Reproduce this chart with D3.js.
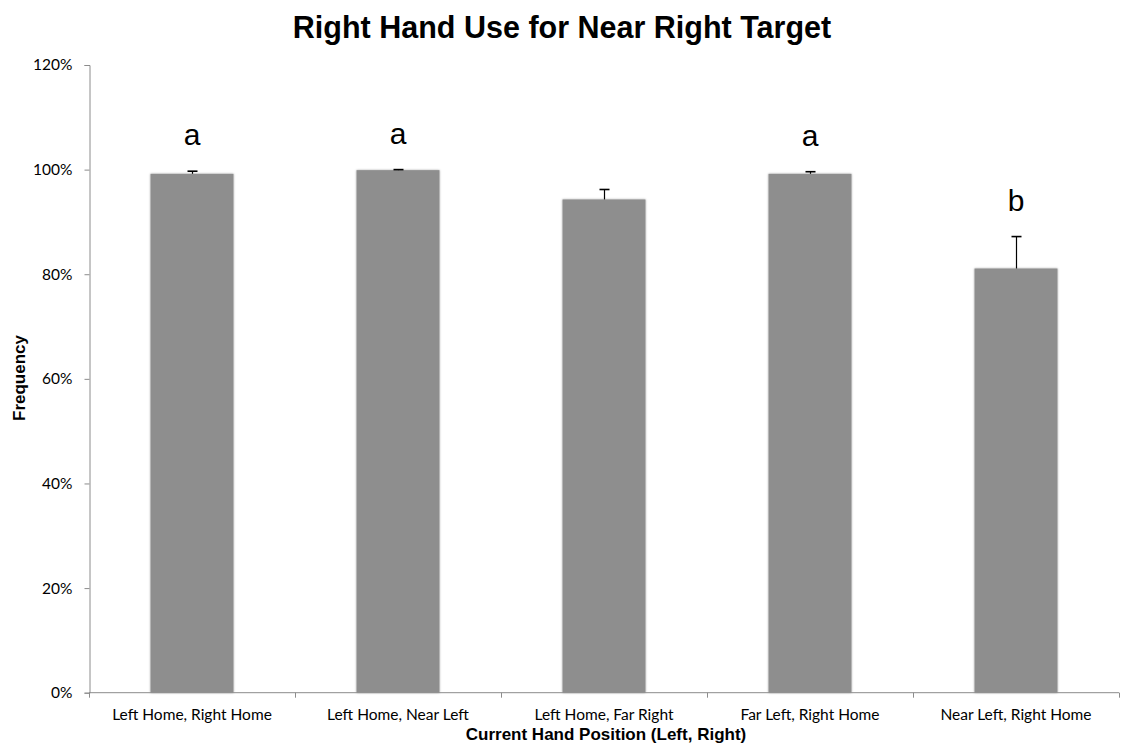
<!DOCTYPE html>
<html>
<head>
<meta charset="utf-8">
<script src="https://cdn.jsdelivr.net/npm/d3@7"></script>
<style>
  body { margin: 0; background: #fff; }
  svg { display: block; }
</style>
</head>
<body>
<svg id="chart" width="1123" height="753"></svg>
<script>
// Share of trials using the right hand, per current hand position
const categories = [
  "Left Home, Right Home",
  "Left Home, Near Left",
  "Left Home, Far Right",
  "Far Left, Right Home",
  "Near Left, Right Home"
];
const frequency = [0.992, 0.999, 0.943, 0.992, 0.811];
const errorUp = [0.005, 0.001, 0.019, 0.004, 0.061];
const groupLetters = ["a", "a", "", "a", "b"];
const yTicks = [0, 0.2, 0.4, 0.6, 0.8, 1.0, 1.2];

const svg = d3.select("#chart");
const plotLeft = 89, plotRight = 1119, plotTop = 65, plotBottom = 692.7;

const x = d3.scaleBand()
  .domain(categories)
  .range([plotLeft, plotRight])
  .paddingInner(0.597)
  .paddingOuter(0.2985);

const y = d3.scaleLinear()
  .domain([0, 1.2])
  .range([plotBottom, plotTop]);

const axisColor = "#8c8c8c";
const tickFont = "Lato, 'Open Sans', sans-serif";
const labelFont = "'Liberation Sans', Arial, sans-serif";

// soft shadow around bars
const defs = svg.append("defs");
const f = defs.append("filter").attr("id", "barShadow")
  .attr("x", "-10%").attr("y", "-5%").attr("width", "120%").attr("height", "110%");
f.append("feGaussianBlur").attr("in", "SourceAlpha").attr("stdDeviation", 1.2).attr("result", "b");
f.append("feComponentTransfer").attr("in", "b").attr("result", "s")
  .append("feFuncA").attr("type", "linear").attr("slope", 0.35);
const fm = f.append("feMerge");
fm.append("feMergeNode").attr("in", "s");
fm.append("feMergeNode").attr("in", "SourceGraphic");

// bars
svg.append("g").selectAll("rect")
  .data(categories)
  .join("rect")
  .attr("x", d => x(d))
  .attr("width", x.bandwidth())
  .attr("y", (d, i) => y(frequency[i]))
  .attr("height", (d, i) => y(0) - y(frequency[i]))
  .attr("fill", "#8e8e8e")
  .attr("filter", "url(#barShadow)");

// error bars (upper only)
const eg = svg.append("g").attr("stroke", "#000").attr("stroke-width", 1.2);
categories.forEach((c, i) => {
  const cx = Math.round(x(c) + x.bandwidth() / 2) + 0.5;
  const yTop = y(frequency[i] + errorUp[i]);
  eg.append("line").attr("x1", cx).attr("x2", cx)
    .attr("y1", y(frequency[i])).attr("y2", yTop);
  eg.append("line").attr("x1", cx - 5).attr("x2", cx + 5)
    .attr("y1", yTop).attr("y2", yTop).attr("stroke-width", 1.6);
});

// significance letters
svg.append("g").selectAll("text")
  .data(categories)
  .join("text")
  .attr("x", d => x(d) + x.bandwidth() / 2)
  .attr("y", (d, i) => y(frequency[i] + errorUp[i]) - 26)
  .attr("text-anchor", "middle")
  .attr("font-family", labelFont)
  .attr("font-size", 30)
  .attr("fill", "#000")
  .text((d, i) => groupLetters[i]);

// y axis
const yAxis = svg.append("g")
  .attr("transform", `translate(${plotLeft + 0.5},0)`)
  .call(d3.axisLeft(y).tickValues(yTicks).tickFormat(d3.format(".0%")).tickSizeOuter(0).tickSize(5));
yAxis.select(".domain").attr("stroke", axisColor);
yAxis.selectAll(".tick line").attr("stroke", axisColor);
yAxis.selectAll(".tick text")
  .attr("font-family", tickFont).attr("font-size", 15.5).attr("fill", "#000").attr("x", -17);

// x axis with ticks on band boundaries
const xAxisG = svg.append("g").attr("transform", `translate(0,${plotBottom})`);
xAxisG.append("line")
  .attr("x1", plotLeft).attr("x2", plotRight)
  .attr("stroke", axisColor);
const bounds = d3.range(categories.length + 1).map(i => plotLeft + i * (plotRight - plotLeft) / categories.length);
xAxisG.selectAll(".bt").data(bounds).join("line")
  .attr("x1", d => Math.round(d) + 0.5).attr("x2", d => Math.round(d) + 0.5)
  .attr("y1", 0).attr("y2", 5).attr("stroke", axisColor);
xAxisG.selectAll(".lbl").data(categories).join("text")
  .attr("x", d => x(d) + x.bandwidth() / 2)
  .attr("y", 27)
  .attr("text-anchor", "middle")
  .attr("font-family", tickFont).attr("font-size", 15.5).attr("fill", "#000")
  .text(d => d);

// titles
svg.append("text")
  .attr("x", 562).attr("y", 38)
  .attr("text-anchor", "middle")
  .attr("font-family", labelFont).attr("font-weight", "bold").attr("font-size", 30.5)
  .text("Right Hand Use for Near Right Target");

svg.append("text")
  .attr("x", 606).attr("y", 740)
  .attr("text-anchor", "middle")
  .attr("font-family", labelFont).attr("font-weight", "bold").attr("font-size", 17)
  .text("Current Hand Position (Left, Right)");

svg.append("text")
  .attr("transform", "translate(25,378) rotate(-90)")
  .attr("text-anchor", "middle")
  .attr("font-family", labelFont).attr("font-weight", "bold").attr("font-size", 17)
  .text("Frequency");
</script>
</body>
</html>
